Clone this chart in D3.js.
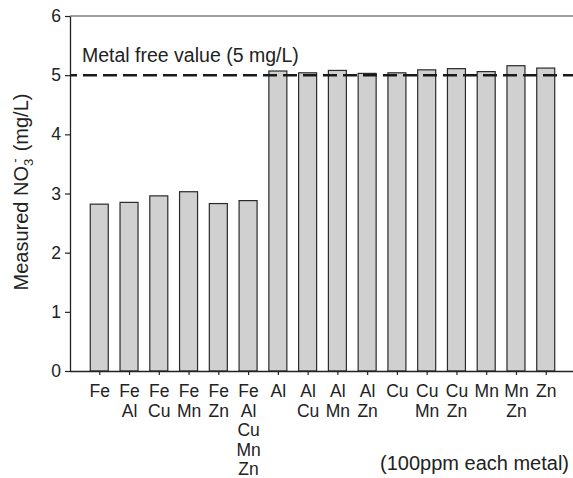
<!DOCTYPE html>
<html>
<head>
<meta charset="utf-8">
<script src="https://cdn.jsdelivr.net/npm/d3@7"></script>
<style>
  body { margin: 0; background: #fff; }
  svg { display: block; }
  text { font-family: "Liberation Sans", Arial, Helvetica, sans-serif; }
</style>
</head>
<body>
<div id="vis"></div>
<script>
// Data
const categories = [
  ["Fe"], ["Fe", "Al"], ["Fe", "Cu"], ["Fe", "Mn"], ["Fe", "Zn"],
  ["Fe", "Al", "Cu", "Mn", "Zn"],
  ["Al"], ["Al", "Cu"], ["Al", "Mn"], ["Al", "Zn"],
  ["Cu"], ["Cu", "Mn"], ["Cu", "Zn"],
  ["Mn"], ["Mn", "Zn"], ["Zn"]
];
const values = [2.82, 2.85, 2.96, 3.03, 2.83, 2.88,
                5.07, 5.04, 5.08, 5.03, 5.04, 5.09, 5.11, 5.06, 5.16, 5.12];
const yTicks = [0, 1, 2, 3, 4, 5, 6];
const metalFree = 5;

const width = 573;
const height = 478;
const margin = { top: 16, right: 0, bottom: 107, left: 70 };
const plotBottom = height - margin.bottom; // ~371

const svg = d3.select("#vis")
  .append("svg")
  .attr("width", width)
  .attr("height", height);

const keys = categories.map(c => c.join(" "));

// Scales
const xScale = d3.scalePoint()
  .domain(keys)
  .range([69.5, 575.5])
  .padding(1);

const yScale = d3.scaleLinear()
  .domain([0, 6])
  .range([plotBottom, margin.top]);

const barWidth = 18;

// Top frame line
svg.append("line")
  .attr("x1", margin.left)
  .attr("x2", width)
  .attr("y1", yScale(6))
  .attr("y2", yScale(6))
  .attr("stroke", "#444")
  .attr("stroke-width", 1.2);

// Bars
svg.append("g")
  .selectAll("rect")
  .data(values)
  .enter()
  .append("rect")
  .attr("x", (d, i) => xScale(keys[i]) - barWidth / 2)
  .attr("y", d => yScale(d))
  .attr("width", barWidth)
  .attr("height", d => yScale(0) - yScale(d))
  .attr("fill", "#cfd0cf")
  .attr("stroke", "#2a2a2a")
  .attr("stroke-width", 1.2);

// Metal free reference line
svg.append("line")
  .attr("x1", margin.left)
  .attr("x2", width)
  .attr("y1", yScale(metalFree))
  .attr("y2", yScale(metalFree))
  .attr("stroke", "#1a1a1a")
  .attr("stroke-width", 2.5)
  .attr("stroke-dasharray", "14,6")
  .attr("stroke-dashoffset", 7);

svg.append("text")
  .attr("x", 82)
  .attr("y", 61.5)
  .attr("fill", "#222")
  .attr("font-size", "19.5px")
  .text("Metal free value (5 mg/L)");

// Y axis
const yAxis = svg.append("g")
  .attr("transform", `translate(${margin.left},0)`)
  .call(d3.axisLeft(yScale).tickValues(yTicks).tickFormat(d3.format("d"))
    .tickSize(5).tickSizeOuter(0).tickPadding(4));
yAxis.select(".domain").attr("stroke", "#222").attr("stroke-width", 1.3);
yAxis.selectAll(".tick line").attr("stroke", "#222").attr("stroke-width", 1.2);
yAxis.selectAll(".tick text")
  .attr("fill", "#222")
  .attr("font-size", "17.5px");

// X axis
const xAxis = svg.append("g")
  .attr("transform", `translate(0,${plotBottom})`)
  .call(d3.axisBottom(xScale).tickSize(4).tickSizeOuter(0).tickFormat(""));
xAxis.select(".domain").attr("d", `M${margin.left},0.5H${width}`)
  .attr("stroke", "#222").attr("stroke-width", 1.3);
xAxis.selectAll(".tick line").attr("stroke", "#222").attr("stroke-width", 1.2);

// Multi-line category labels
xAxis.selectAll(".tick text")
  .attr("fill", "#222")
  .attr("font-size", "17.5px")
  .attr("y", 0)
  .each(function(d, i) {
    const t = d3.select(this);
    categories[i].forEach((line, j) => {
      t.append("tspan")
        .attr("x", 0)
        .attr("y", 26 + j * 19.5)
        .text(line);
    });
  })
  .attr("dy", null);

// Y axis title
const yTitle = svg.append("text")
  .attr("transform", `translate(28,192) rotate(-90)`)
  .attr("text-anchor", "middle")
  .attr("fill", "#222")
  .attr("font-size", "20px");
yTitle.append("tspan").text("Measured NO");
yTitle.append("tspan").attr("font-size", "13px").attr("dy", 5).text("3");
yTitle.append("tspan").attr("font-size", "13px").attr("dx", -4).attr("dy", -14).text("-");
yTitle.append("tspan").attr("dx", 7).attr("dy", 9).text("(mg/L)");

// Note
svg.append("text")
  .attr("x", 569)
  .attr("y", 470)
  .attr("text-anchor", "end")
  .attr("fill", "#222")
  .attr("font-size", "20px")
  .text("(100ppm each metal)");
</script>
</body>
</html>
